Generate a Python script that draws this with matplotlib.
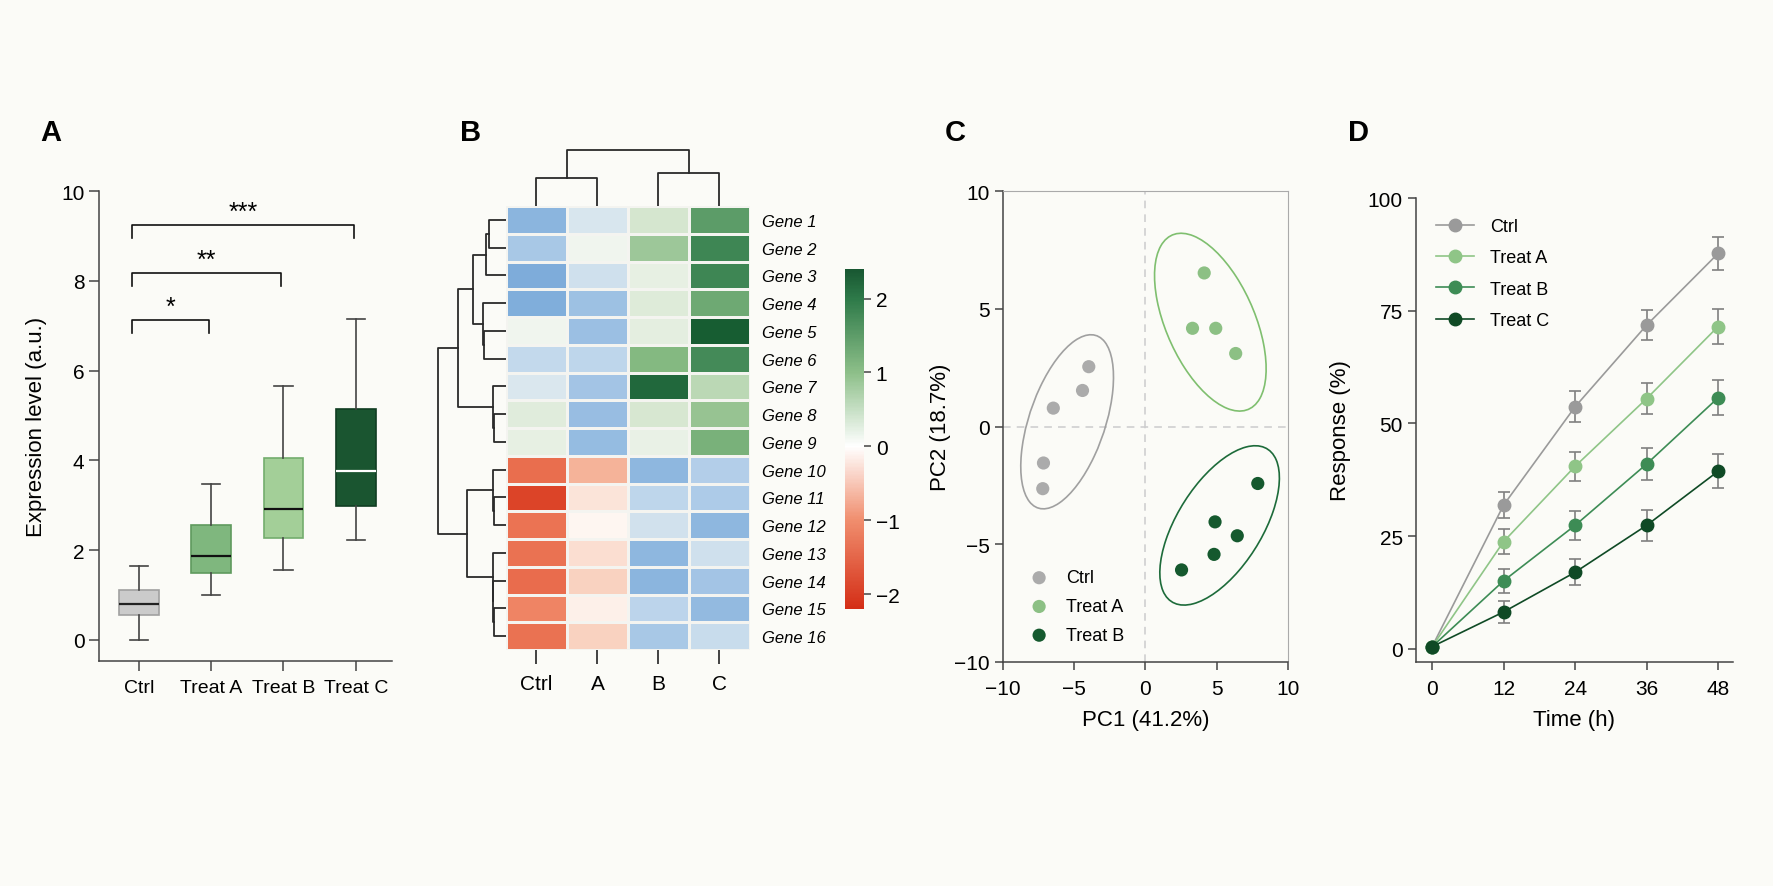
import numpy as np
import matplotlib
matplotlib.use("Agg")
import matplotlib.pyplot as plt
from matplotlib.colors import LinearSegmentedColormap, Normalize
from matplotlib.cm import ScalarMappable
from matplotlib.patches import Ellipse
from matplotlib.lines import Line2D

plt.rcParams["font.family"] = ["Liberation Sans", "DejaVu Sans"]

# -------------------------------------------------------
# Data
# -------------------------------------------------------

# Panel A - box plot
groups = ["Ctrl", "Treat A", "Treat B", "Treat C"]
box_lo = [0.0, 0.99, 1.55, 2.22]
box_q1 = [0.55, 1.48, 2.26, 2.98]
box_med = [0.81, 1.88, 2.92, 3.76]
box_q3 = [1.12, 2.55, 4.05, 5.14]
box_hi = [1.64, 3.48, 5.65, 7.15]
# (from, to, height, label)
sig_pairs = [(0, 1, 7.13, "*"), (0, 2, 8.18, "**"), (0, 3, 9.25, "***")]

# Panel B - heatmap
genes = ["Gene %d" % i for i in range(1, 17)]
conditions = ["Ctrl", "A", "B", "C"]
expr = [
    [-0.80, -0.22, 0.50, 1.55],
    [-0.60, 0.05, 1.00, 1.80],
    [-0.90, -0.30, 0.20, 1.80],
    [-0.88, -0.66, 0.35, 1.40],
    [0.05, -0.68, 0.25, 2.35],
    [-0.38, -0.42, 1.20, 1.75],
    [-0.20, -0.62, 2.20, 0.75],
    [0.30, -0.70, 0.45, 1.05],
    [0.20, -0.72, 0.15, 1.30],
    [-1.75, -1.22, -0.78, -0.52],
    [-2.20, -1.06, -0.42, -0.55],
    [-1.70, -1.01, -0.28, -0.78],
    [-1.72, -1.07, -0.78, -0.30],
    [-1.78, -1.12, -0.80, -0.62],
    [-1.55, -1.03, -0.45, -0.75],
    [-1.72, -1.12, -0.60, -0.35],
]
# dendrogram merges: (child, child, height); leaves are 0..n-1
row_merges = [
    (0, 1, 17.0), (16, 2, 20.0), (4, 5, 21.7), (3, 18, 22.7), (17, 19, 32.7),
    (7, 8, 12.0), (6, 21, 13.3), (20, 22, 47.7),
    (10, 11, 12.5), (9, 24, 13.3), (14, 15, 12.0), (13, 26, 12.7),
    (12, 27, 13.3), (25, 28, 39.3), (23, 29, 67.7),
]
col_merges = [(0, 1, 28.0), (2, 3, 33.5), (4, 5, 56.4)]

# Panel C - PCA
pc_ctrl_x = [-3.98, -4.42, -6.47, -7.16, -7.21]
pc_ctrl_y = [2.54, 1.53, 0.78, -1.55, -2.64]
pc_a_x = [4.12, 3.30, 4.93, 6.33]
pc_a_y = [6.52, 4.17, 4.17, 3.10]
pc_b_x = [7.88, 4.88, 6.44, 4.81, 2.53]
pc_b_y = [-2.42, -4.05, -4.64, -5.43, -6.09]
# ellipse: center x, center y, width, height, angle
ell_ctrl = [-5.5, 0.2, 8.6, 4.8, 52]
ell_a = [4.55, 4.43, 9.5, 5.3, -43]
ell_b = [5.2, -4.2, 9.7, 4.7, 35]

# Panel D - time course
time_h = [0, 12, 24, 36, 48]
resp_ctrl = [0.5, 31.9, 53.7, 71.8, 87.7]
resp_a = [0.5, 23.8, 40.5, 55.5, 71.5]
resp_b = [0.5, 15.1, 27.4, 41.0, 55.7]
resp_c = [0.5, 8.2, 17.0, 27.4, 39.4]
err_ctrl = [0, 2.9, 3.4, 3.4, 3.6]
err_a = [0, 2.7, 3.2, 3.4, 3.8]
err_b = [0, 2.7, 3.2, 3.5, 3.9]
err_c = [0, 2.4, 2.9, 3.4, 3.8]

# -------------------------------------------------------
# Figure setup
# -------------------------------------------------------

W, H = 1774, 887
BG = "#fbfbf7"
fig = plt.figure(figsize=(W / 100, H / 100), dpi=100, facecolor=BG)

TICK = 15
LABEL = 16


def px_axes(l, t, r, b):
    ax = fig.add_axes([l / W, 1 - b / H, (r - l) / W, (b - t) / H])
    ax.set_facecolor(BG)
    return ax


def panel_letter(x, y, s):
    fig.text(x / W, 1 - y / H, s, fontsize=21, fontweight="bold",
             ha="center", va="center")


# -------------------------------------------------------
# Panel A
# -------------------------------------------------------

axA = px_axes(99, 192, 392, 662)
stats = []
for i in range(4):
    stats.append({"med": box_med[i], "q1": box_q1[i], "q3": box_q3[i],
                  "whislo": box_lo[i], "whishi": box_hi[i], "fliers": []})
box_face = ["#cbcbcb", "#7fb77e", "#a3cf98", "#1a5530"]
box_edge = ["#a0a0a0", "#5f9a5e", "#73ad6d", "#103d22"]
med_col = ["#222222", "#111111", "#111111", "white"]
bp = axA.bxp(stats, positions=range(4), widths=0.55, patch_artist=True,
             showfliers=False, capwidths=0.25)
for i in range(4):
    bp["boxes"][i].set(facecolor=box_face[i], edgecolor=box_edge[i], linewidth=1.2)
    bp["medians"][i].set(color=med_col[i], linewidth=1.6)
for ln in bp["whiskers"] + bp["caps"]:
    ln.set(color="#444444", linewidth=1.2)

for x1, x2, y, lab in sig_pairs:
    axA.plot([x1 - 0.09, x1 - 0.09, x2 - 0.03, x2 - 0.03],
             [y - 0.3, y, y, y - 0.3], color="#111111", lw=1.2)
    axA.text((x1 - 0.09 + x2 - 0.03) / 2, y + 0.02, lab, ha="center",
             va="bottom", fontsize=18)

axA.set_xlim(-0.55, 3.5)
axA.set_ylim(-0.47, 10)
axA.set_yticks([0, 2, 4, 6, 8, 10])
axA.set_xticks(range(4))
axA.set_xticklabels(groups, fontsize=14)
axA.tick_params(axis="y", labelsize=TICK, length=7, width=1.1, color="#444444")
axA.tick_params(axis="x", length=7, width=1.1, color="#444444", pad=6)
axA.spines[["top", "right"]].set_visible(False)
axA.spines[["left", "bottom"]].set_color("#444444")
axA.spines[["left", "bottom"]].set_linewidth(1.1)
axA.set_ylabel("Expression level (a.u.)", fontsize=LABEL, labelpad=10)
panel_letter(51, 133, "A")

# -------------------------------------------------------
# Panel B
# -------------------------------------------------------

cell_nodes = [(-2.4, "#d73218"), (-1.6, "#ee7d5c"), (-1.2, "#f6b89e"),
              (-1.0, "#fef8f4"), (-0.999, "#6fa3d6"), (-0.5, "#b5d0ea"),
              (0.0, "#f3f6f1"), (0.6, "#cfe3c8"), (1.2, "#86ba82"),
              (1.8, "#3f8755"), (2.4, "#145a30")]
cell_cmap = LinearSegmentedColormap.from_list(
    "cells", [((v + 2.4) / 4.8, c) for v, c in cell_nodes])
bar_nodes = [(-2.2, "#d42e16"), (-1.0, "#f08e6e"), (0.0, "#ffffff"),
             (1.0, "#8dbf89"), (2.0, "#2e7a49"), (2.4, "#185732")]
bar_cmap = LinearSegmentedColormap.from_list(
    "bar", [((v + 2.2) / 4.6, c) for v, c in bar_nodes])

axH = px_axes(506, 207, 750, 651)
axH.pcolormesh(np.array(expr), cmap=cell_cmap, norm=Normalize(-2.4, 2.4),
               edgecolors="#f4f4f0", linewidth=0.8)
axH.set_xlim(0, 4)
axH.set_ylim(16, 0)
axH.set_xticks(np.arange(4) + 0.5)
axH.set_xticklabels(conditions, fontsize=TICK)
axH.set_yticks(np.arange(16) + 0.5)
axH.set_yticklabels(genes, fontsize=12, style="italic")
axH.yaxis.tick_right()
axH.tick_params(axis="y", length=0, pad=9)
axH.tick_params(axis="x", length=10, width=1.3, color="#333333", pad=7)
for s in axH.spines.values():
    s.set_visible(False)


def draw_dendro(ax, merges, n, horizontal):
    pos = {i: i + 0.5 for i in range(n)}
    hgt = {i: 0.0 for i in range(n)}
    for k, (a, b, h) in enumerate(merges):
        xs = [hgt[a], h, h, hgt[b]]
        ys = [pos[a], pos[a], pos[b], pos[b]]
        if horizontal:
            ax.plot(xs, ys, color="#2a2a2a", lw=1.3)
        else:
            ax.plot(ys, xs, color="#2a2a2a", lw=1.3)
        pos[n + k] = (pos[a] + pos[b]) / 2
        hgt[n + k] = h
    ax.axis("off")


axDL = px_axes(436, 207, 506, 651)
draw_dendro(axDL, row_merges, 16, True)
axDL.set_xlim(70, 0)
axDL.set_ylim(16, 0)

axDT = px_axes(506, 148, 750, 207)
draw_dendro(axDT, col_merges, 4, False)
axDT.set_xlim(0, 4)
axDT.set_ylim(0, 59)

cax = px_axes(845, 270, 864, 610)
cb = fig.colorbar(ScalarMappable(norm=Normalize(-2.2, 2.4), cmap=bar_cmap),
                  cax=cax, ticks=[-2, -1, 0, 1, 2])
cb.outline.set_visible(False)
cb.ax.tick_params(labelsize=TICK, length=5, width=1.1, color="#444444")
panel_letter(471, 133, "B")

# -------------------------------------------------------
# Panel C
# -------------------------------------------------------

axC = px_axes(1003, 192, 1288, 663)
axC.axhline(0, color="#cccccc", lw=1.1, ls=(0, (5, 4)), zorder=0)
axC.axvline(0, color="#cccccc", lw=1.1, ls=(0, (5, 4)), zorder=0)
pc_sets = [(pc_ctrl_x, pc_ctrl_y, ell_ctrl, "#ababab", "#a0a0a0", "Ctrl"),
           (pc_a_x, pc_a_y, ell_a, "#8cc084", "#7fbf6f", "Treat A"),
           (pc_b_x, pc_b_y, ell_b, "#15592e", "#1d6b3a", "Treat B")]
for xs, ys, ell, pcol, ecol, lab in pc_sets:
    axC.add_patch(Ellipse((ell[0], ell[1]), ell[2], ell[3], angle=ell[4],
                          fill=False, edgecolor=ecol, lw=1.2))
    axC.scatter(xs, ys, s=90, color=pcol, edgecolors="none", label=lab, zorder=3)
axC.set_xlim(-10, 10)
axC.set_ylim(-10, 10)
axC.set_xticks([-10, -5, 0, 5, 10])
axC.set_yticks([-10, -5, 0, 5, 10])
axC.tick_params(labelsize=TICK, length=6, width=1.1, color="#444444")
axC.tick_params(axis="x", pad=6)
for side in ["top", "right"]:
    axC.spines[side].set_color("#aaaaaa")
for side in ["left", "bottom"]:
    axC.spines[side].set_color("#444444")
    axC.spines[side].set_linewidth(1.1)
axC.set_xlabel("PC1 (41.2%)", fontsize=LABEL, labelpad=8)
axC.set_ylabel("PC2 (18.7%)", fontsize=LABEL, labelpad=2)
axC.legend(loc="lower left", frameon=False, fontsize=13, handletextpad=0.5,
           borderaxespad=0.6, labelspacing=0.65)
panel_letter(955, 133, "C")

# -------------------------------------------------------
# Panel D
# -------------------------------------------------------

axD = px_axes(1416, 199, 1733, 663)
series = [(resp_ctrl, err_ctrl, "#9a9a9a", "Ctrl"),
          (resp_a, err_a, "#8fc587", "Treat A"),
          (resp_b, err_b, "#3d8c55", "Treat B"),
          (resp_c, err_c, "#0f4a25", "Treat C")]
handles = []
for ys, es, col, lab in series:
    axD.errorbar(time_h, ys, yerr=es, color=col, ecolor="#808080",
                 elinewidth=1.2, capsize=4, capthick=1.2, lw=1.2,
                 marker="o", ms=9, zorder=3)
    handles.append(Line2D([], [], color=col, lw=1.2, marker="o", ms=9, label=lab))
axD.set_xlim(-2.7, 50.5)
axD.set_ylim(-2.9, 100)
axD.set_xticks(time_h)
axD.set_yticks([0, 25, 50, 75, 100])
axD.tick_params(labelsize=TICK, length=6, width=1.1, color="#444444")
axD.tick_params(axis="x", pad=6)
axD.spines[["top", "right"]].set_visible(False)
axD.spines[["left", "bottom"]].set_color("#444444")
axD.spines[["left", "bottom"]].set_linewidth(1.1)
axD.set_xlabel("Time (h)", fontsize=LABEL, labelpad=8)
axD.set_ylabel("Response (%)", fontsize=LABEL, labelpad=12)
axD.legend(handles=handles, loc="upper left", frameon=False, fontsize=13,
           handlelength=2.1, handletextpad=0.9, labelspacing=0.8,
           borderaxespad=0.7)
panel_letter(1359, 133, "D")

fig.savefig("out.png", dpi=100, facecolor=BG)
